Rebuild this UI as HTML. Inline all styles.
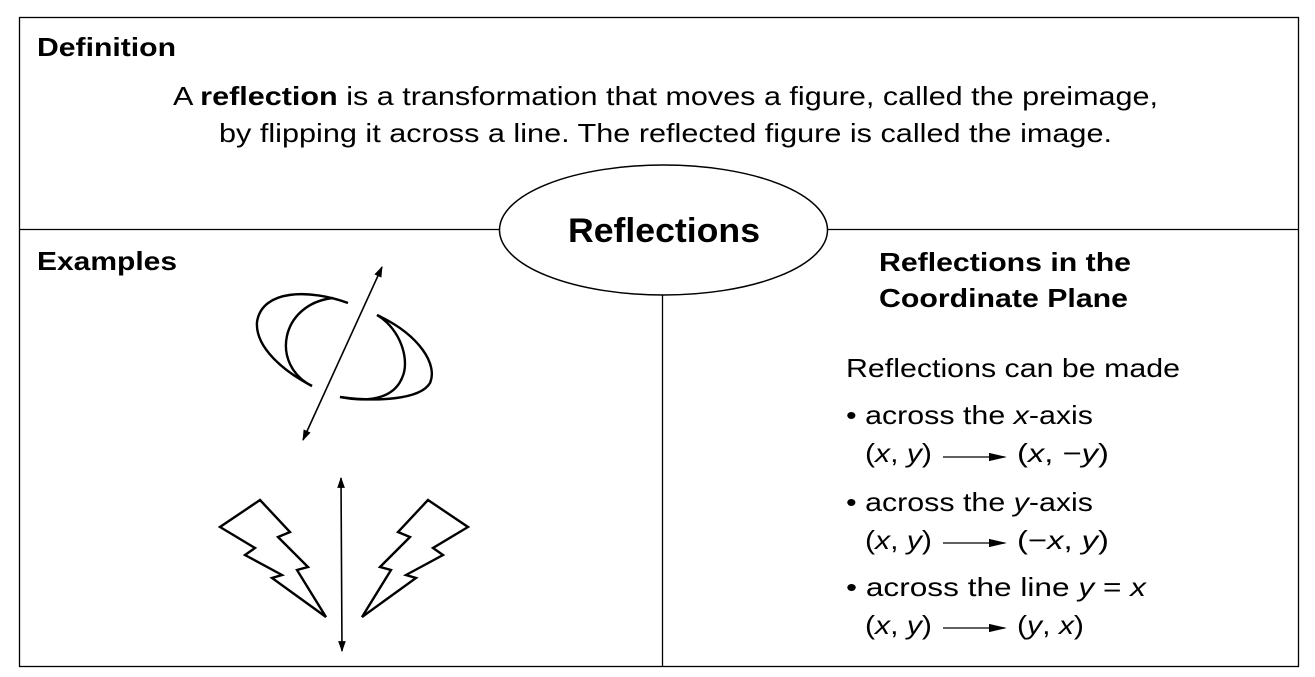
<!DOCTYPE html>
<html><head><meta charset="utf-8"><style>
html,body{margin:0;padding:0;background:#fff;}
svg{display:block;}
text{font-family:"Liberation Sans",Arial,sans-serif;fill:#000;}
</style></head><body>
<svg width="1315" height="677" viewBox="0 0 1315 677" xmlns="http://www.w3.org/2000/svg">
<defs>
<marker id="ah" viewBox="0 0 10 10" refX="9" refY="5" markerWidth="11" markerHeight="11" orient="auto-start-reverse" markerUnits="userSpaceOnUse"><path d="M0,1.5 L10,5 L0,8.5 z" fill="#000"/></marker>
<marker id="ah2" viewBox="0 0 10 10" refX="9" refY="5" markerWidth="18" markerHeight="14" orient="auto" markerUnits="userSpaceOnUse" preserveAspectRatio="none"><path d="M0,2 L10,5 L0,8 z" fill="#000"/></marker>
</defs>
<rect x="19.5" y="17.5" width="1279" height="649" fill="none" stroke="#000" stroke-width="1.3"/>
<line x1="19" y1="229.5" x2="1298" y2="229.5" stroke="#000" stroke-width="1.3"/>
<line x1="662.5" y1="295" x2="662.5" y2="666" stroke="#000" stroke-width="1.3"/>
<ellipse cx="663.5" cy="230" rx="164" ry="65" fill="#fff" stroke="#000" stroke-width="1.5"/>

<text x="37" y="56" font-size="26" font-weight="bold" textLength="139" lengthAdjust="spacingAndGlyphs">Definition</text>
<text x="173" y="105" font-size="26" textLength="985" lengthAdjust="spacingAndGlyphs">A <tspan font-weight="bold">reflection</tspan> is a transformation that moves a figure, called the preimage,</text>
<text x="219" y="142" font-size="26" textLength="893" lengthAdjust="spacingAndGlyphs">by flipping it across a line. The reflected figure is called the image.</text>
<text x="568" y="242" font-size="34" font-weight="bold" textLength="192" lengthAdjust="spacingAndGlyphs">Reflections</text>
<text x="37" y="270" font-size="26" font-weight="bold" textLength="140" lengthAdjust="spacingAndGlyphs">Examples</text>
<text x="879" y="271" font-size="26" font-weight="bold" textLength="252" lengthAdjust="spacingAndGlyphs">Reflections in the</text>
<text x="879" y="307" font-size="26" font-weight="bold" textLength="249" lengthAdjust="spacingAndGlyphs">Coordinate Plane</text>
<text x="846" y="377" font-size="26" textLength="334" lengthAdjust="spacingAndGlyphs">Reflections can be made</text>

<text x="846" y="424" font-size="26" textLength="247" lengthAdjust="spacingAndGlyphs">• across the <tspan font-style="italic">x</tspan>-axis</text>
<text x="865" y="462" font-size="26" textLength="67" lengthAdjust="spacingAndGlyphs">(<tspan font-style="italic">x</tspan>, <tspan font-style="italic">y</tspan>)</text>
<line x1="943" y1="457" x2="1005" y2="457" stroke="#000" stroke-width="1.3" marker-end="url(#ah2)"/>
<text x="1017" y="462" font-size="26" textLength="92" lengthAdjust="spacingAndGlyphs">(<tspan font-style="italic">x</tspan>, −<tspan font-style="italic">y</tspan>)</text>

<text x="846" y="511" font-size="26" textLength="247" lengthAdjust="spacingAndGlyphs">• across the <tspan font-style="italic">y</tspan>-axis</text>
<text x="865" y="549" font-size="26" textLength="67" lengthAdjust="spacingAndGlyphs">(<tspan font-style="italic">x</tspan>, <tspan font-style="italic">y</tspan>)</text>
<line x1="943" y1="543" x2="1005" y2="543" stroke="#000" stroke-width="1.3" marker-end="url(#ah2)"/>
<text x="1017" y="549" font-size="26" textLength="92" lengthAdjust="spacingAndGlyphs">(−<tspan font-style="italic">x</tspan>, <tspan font-style="italic">y</tspan>)</text>

<text x="846" y="596" font-size="26" textLength="300" lengthAdjust="spacingAndGlyphs">• across the line <tspan font-style="italic">y</tspan> = <tspan font-style="italic">x</tspan></text>
<text x="865" y="634" font-size="26" textLength="67" lengthAdjust="spacingAndGlyphs">(<tspan font-style="italic">x</tspan>, <tspan font-style="italic">y</tspan>)</text>
<line x1="943" y1="628" x2="1005" y2="628" stroke="#000" stroke-width="1.3" marker-end="url(#ah2)"/>
<text x="1017" y="634" font-size="26" textLength="67" lengthAdjust="spacingAndGlyphs">(<tspan font-style="italic">y</tspan>, <tspan font-style="italic">x</tspan>)</text>

<g fill="none" stroke="#000" stroke-width="2.4">
<line x1="303" y1="440" x2="382" y2="267" stroke-width="1.6" marker-start="url(#ah)" marker-end="url(#ah)"/>
<path d="M348,303 C310,289 262,289 257,322 C255,348 285,372 312,386"/>
<path d="M333,298 C280,304 270,365 312,386"/>
<path d="M377,315 C420,335 438,365 430,383 C420,400 375,402 340,397"/>
<path d="M377,315 C402,330 410,362 402,378 C395,395 375,404 340,397"/>
<line x1="341" y1="478" x2="342" y2="651" stroke-width="1.6" marker-start="url(#ah)" marker-end="url(#ah)"/>
<path d="M260,500 L220,527 L255,548 L245,555 L282,575 L272,578 L326,617 L297,570 L308,567 L278,537 L290,532 Z"/>
<path d="M428,500 L468,527 L433,548 L443,555 L406,575 L416,578 L362,617 L391,570 L380,567 L410,537 L398,532 Z"/>
</g>
</svg>
</body></html>
